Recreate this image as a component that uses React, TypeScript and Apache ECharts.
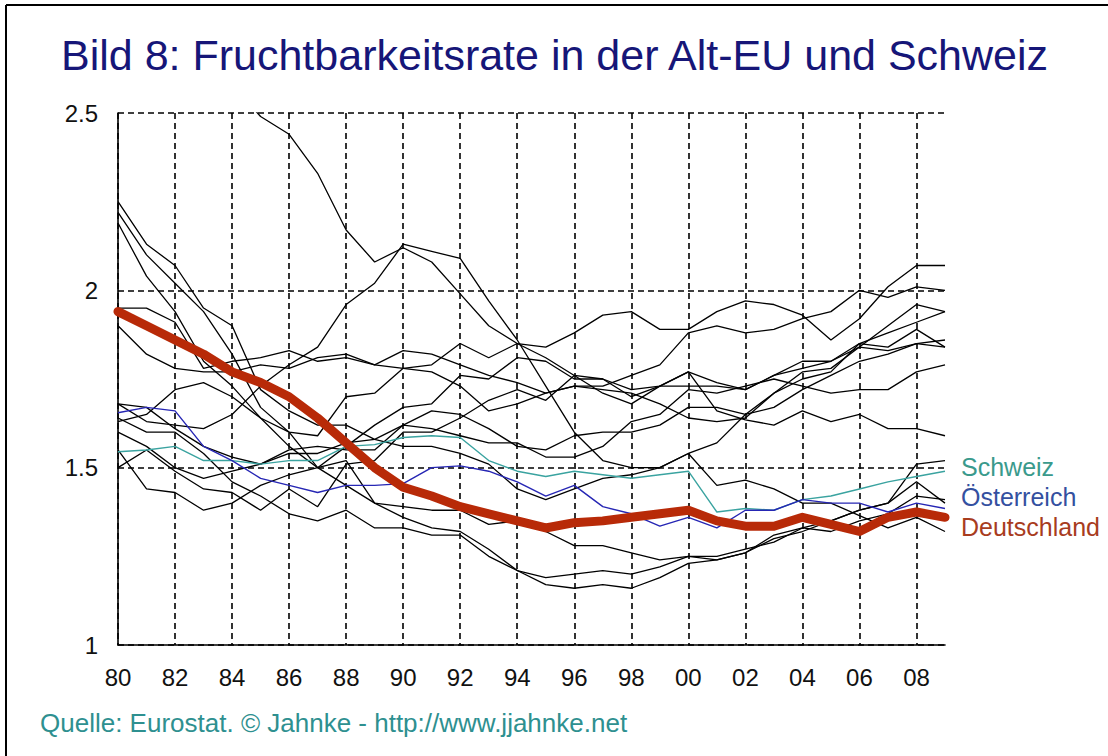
import React, { useEffect, useRef } from "react";
import * as echarts from "echarts";

const years = [
  "1980", "1981", "1982", "1983", "1984", "1985", "1986", "1987", "1988", "1989",
  "1990", "1991", "1992", "1993", "1994", "1995", "1996", "1997", "1998", "1999",
  "2000", "2001", "2002", "2003", "2004", "2005", "2006", "2007", "2008", "2009",
];

const deutschland = [1.94, 1.9, 1.86, 1.82, 1.77, 1.74, 1.7, 1.64, 1.57, 1.5, 1.445, 1.42, 1.39, 1.37, 1.35, 1.33, 1.345, 1.35, 1.36, 1.37, 1.38, 1.35, 1.335, 1.335, 1.36, 1.34, 1.32, 1.36, 1.375, 1.36];
const oesterreich = [1.655, 1.67, 1.66, 1.56, 1.52, 1.47, 1.45, 1.43, 1.45, 1.45, 1.455, 1.5, 1.505, 1.49, 1.46, 1.42, 1.45, 1.39, 1.37, 1.335, 1.36, 1.33, 1.38, 1.38, 1.41, 1.4, 1.4, 1.375, 1.4, 1.385];
const schweiz = [1.545, 1.55, 1.56, 1.52, 1.52, 1.51, 1.52, 1.52, 1.56, 1.565, 1.585, 1.59, 1.585, 1.52, 1.49, 1.475, 1.49, 1.48, 1.47, 1.48, 1.49, 1.375, 1.385, 1.38, 1.41, 1.42, 1.44, 1.46, 1.475, 1.49];

const belgien = [1.68, 1.67, 1.61, 1.56, 1.53, 1.51, 1.54, 1.54, 1.57, 1.58, 1.62, 1.66, 1.65, 1.61, 1.56, 1.55, 1.59, 1.6, 1.6, 1.62, 1.67, 1.67, 1.65, 1.67, 1.72, 1.76, 1.8, 1.82, 1.85, 1.84];
const daenemark = [1.55, 1.44, 1.43, 1.38, 1.4, 1.45, 1.48, 1.5, 1.56, 1.62, 1.67, 1.68, 1.76, 1.75, 1.81, 1.8, 1.75, 1.75, 1.72, 1.73, 1.77, 1.74, 1.72, 1.76, 1.78, 1.8, 1.85, 1.84, 1.89, 1.84];
const griechenland = [2.22, 2.1, 2.02, 1.94, 1.82, 1.67, 1.6, 1.5, 1.52, 1.4, 1.39, 1.38, 1.38, 1.34, 1.35, 1.32, 1.28, 1.28, 1.26, 1.24, 1.25, 1.24, 1.26, 1.3, 1.32, 1.35, 1.38, 1.4, 1.51, 1.52];
const spanien = [2.19, 2.04, 1.94, 1.8, 1.73, 1.64, 1.56, 1.5, 1.45, 1.4, 1.36, 1.33, 1.32, 1.27, 1.21, 1.17, 1.16, 1.17, 1.16, 1.19, 1.23, 1.24, 1.26, 1.31, 1.33, 1.35, 1.38, 1.4, 1.46, 1.4];
const frankreich = [1.95, 1.95, 1.91, 1.78, 1.8, 1.81, 1.83, 1.8, 1.81, 1.79, 1.78, 1.77, 1.73, 1.66, 1.68, 1.71, 1.73, 1.73, 1.76, 1.79, 1.88, 1.9, 1.88, 1.89, 1.92, 1.94, 2.0, 1.98, 2.01, 2.0];
const irland = [null, null, null, null, 2.58, 2.49, 2.44, 2.33, 2.17, 2.08, 2.12, 2.08, 1.99, 1.9, 1.85, 1.84, 1.88, 1.93, 1.94, 1.89, 1.89, 1.94, 1.97, 1.96, 1.93, 1.86, 1.92, 2.01, 2.07, 2.07];
const italien = [1.64, 1.6, 1.6, 1.54, 1.46, 1.42, 1.37, 1.35, 1.38, 1.33, 1.33, 1.31, 1.31, 1.25, 1.21, 1.19, 1.2, 1.21, 1.2, 1.22, 1.25, 1.25, 1.27, 1.29, 1.33, 1.32, 1.35, 1.37, 1.42, 1.41];
const luxemburg = [1.5, 1.55, 1.49, 1.44, 1.43, 1.38, 1.44, 1.39, 1.51, 1.52, 1.6, 1.6, 1.64, 1.69, 1.72, 1.69, 1.76, 1.71, 1.68, 1.73, 1.77, 1.66, 1.635, 1.62, 1.66, 1.63, 1.65, 1.61, 1.61, 1.59];
const niederlande = [1.6, 1.56, 1.5, 1.47, 1.49, 1.51, 1.55, 1.56, 1.55, 1.55, 1.62, 1.61, 1.59, 1.57, 1.57, 1.53, 1.53, 1.56, 1.63, 1.65, 1.72, 1.71, 1.73, 1.75, 1.73, 1.71, 1.72, 1.72, 1.77, 1.79];
const portugal = [2.25, 2.13, 2.07, 1.95, 1.9, 1.72, 1.66, 1.62, 1.62, 1.58, 1.56, 1.56, 1.54, 1.51, 1.44, 1.41, 1.44, 1.47, 1.48, 1.5, 1.54, 1.45, 1.465, 1.44, 1.4, 1.4, 1.365, 1.33, 1.36, 1.32];
const finnland = [1.63, 1.65, 1.72, 1.74, 1.7, 1.64, 1.6, 1.59, 1.7, 1.71, 1.78, 1.79, 1.85, 1.81, 1.85, 1.81, 1.76, 1.75, 1.7, 1.73, 1.73, 1.73, 1.72, 1.76, 1.8, 1.8, 1.84, 1.83, 1.85, 1.86];
const schweden = [1.68, 1.63, 1.62, 1.61, 1.65, 1.73, 1.79, 1.84, 1.96, 2.02, 2.13, 2.11, 2.09, 1.97, 1.86, 1.73, 1.6, 1.52, 1.5, 1.5, 1.54, 1.57, 1.65, 1.71, 1.75, 1.77, 1.85, 1.88, 1.91, 1.94];
const grossbritannien = [1.9, 1.82, 1.78, 1.77, 1.77, 1.79, 1.78, 1.81, 1.82, 1.79, 1.83, 1.82, 1.79, 1.76, 1.74, 1.71, 1.73, 1.72, 1.71, 1.68, 1.64, 1.63, 1.64, 1.71, 1.77, 1.78, 1.84, 1.9, 1.96, 1.94];

const otherCountries: [string, (number | null)[]][] = [
  ["Belgien", belgien],
  ["Dänemark", daenemark],
  ["Griechenland", griechenland],
  ["Spanien", spanien],
  ["Frankreich", frankreich],
  ["Irland", irland],
  ["Italien", italien],
  ["Luxemburg", luxemburg],
  ["Niederlande", niederlande],
  ["Portugal", portugal],
  ["Finnland", finnland],
  ["Schweden", schweden],
  ["Großbritannien", grossbritannien],
];

const titleText = "Bild 8: Fruchtbarkeitsrate in der Alt-EU und Schweiz";
const sourceText = "Quelle: Eurostat. © Jahnke - http://www.jjahnke.net";

const FONT = "'Liberation Sans', Arial, sans-serif";

export default function App() {
  const ref = useRef<HTMLDivElement>(null);
  useEffect(() => {
    if (!ref.current) return;
    const chart = echarts.init(ref.current, undefined, { renderer: "svg" });
    const blackSeries = otherCountries.map(([name, data]) => ({
      name,
      type: "line",
      data,
      symbol: "none",
      silent: true,
      connectNulls: false,
      lineStyle: { color: "#000", width: 1.3 },
      z: 2,
    }));
    chart.setOption({
      animation: false,
      backgroundColor: "#fff",
      grid: { left: 118, right: 163, top: 113, bottom: 111, containLabel: false },
      xAxis: {
        type: "category",
        data: years,
        boundaryGap: false,
        axisLine: { show: true, lineStyle: { color: "#000", width: 1.6 } },
        axisTick: { show: false },
        axisLabel: {
          interval: 1,
          formatter: (v: string) => v.slice(2),
          fontSize: 24,
          color: "#111",
          fontFamily: FONT,
          margin: 20,
        },
        splitLine: {
          show: true,
          interval: 1,
          lineStyle: { color: "#000", type: [6, 4], width: 1.6 },
        },
      },
      yAxis: {
        type: "value",
        min: 1,
        max: 2.5,
        interval: 0.5,
        axisLine: { show: true, lineStyle: { color: "#000", width: 1.6 } },
        axisTick: { show: false },
        axisLabel: {
          fontSize: 24,
          color: "#111",
          fontFamily: FONT,
          margin: 20,
        },
        splitLine: {
          show: true,
          lineStyle: { color: "#000", type: [6, 4], width: 1.6 },
        },
      },
      series: [
        ...blackSeries,
        {
          name: "Schweiz",
          type: "line",
          data: schweiz,
          symbol: "none",
          silent: true,
          lineStyle: { color: "#3aa3a0", width: 1.4 },
          z: 3,
        },
        {
          name: "Österreich",
          type: "line",
          data: oesterreich,
          symbol: "none",
          silent: true,
          lineStyle: { color: "#2626b4", width: 1.4 },
          z: 3,
        },
        {
          name: "Deutschland",
          type: "line",
          data: deutschland,
          symbol: "none",
          silent: true,
          lineStyle: { color: "#b82a08", width: 9, cap: "round", join: "round" },
          z: 4,
        },
      ],
      graphic: [
        { type: "line", shape: { x1: 6, y1: 5, x2: 6, y2: 756 }, style: { stroke: "#000", lineWidth: 2 } },
        { type: "line", shape: { x1: 6, y1: 5, x2: 1108, y2: 5 }, style: { stroke: "#000", lineWidth: 2 } },
        {
          type: "text",
          left: 61,
          top: 33,
          style: { text: titleText, fontSize: 43, fontFamily: FONT, fill: "#161678" },
        },
        {
          type: "text",
          x: 961,
          y: 467,
          style: { text: "Schweiz", fontSize: 25, fontFamily: FONT, fill: "#3a9a8c", verticalAlign: "middle" },
        },
        {
          type: "text",
          x: 961,
          y: 497,
          style: { text: "Österreich", fontSize: 25, fontFamily: FONT, fill: "#3450a0", verticalAlign: "middle" },
        },
        {
          type: "text",
          x: 961,
          y: 527,
          style: { text: "Deutschland", fontSize: 25, fontFamily: FONT, fill: "#a83c1e", verticalAlign: "middle" },
        },
        {
          type: "text",
          x: 40,
          y: 723,
          style: { text: sourceText, fontSize: 26, fontFamily: FONT, fill: "#2e9090", verticalAlign: "middle" },
        },
      ],
    });
    return () => chart.dispose();
  }, []);
  return (
    <div
      ref={ref}
      style={{ position: "absolute", left: 0, top: 0, width: 1108, height: 756 }}
    />
  );
}
